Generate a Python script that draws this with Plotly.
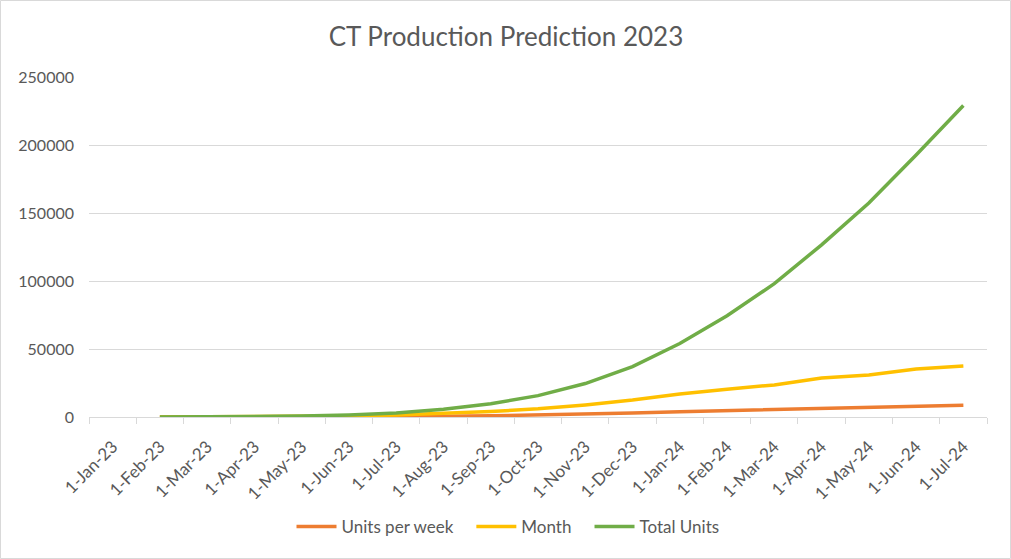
import plotly.graph_objects as go

months = ["1-Jan-23", "1-Feb-23", "1-Mar-23", "1-Apr-23", "1-May-23", "1-Jun-23",
          "1-Jul-23", "1-Aug-23", "1-Sep-23", "1-Oct-23", "1-Nov-23", "1-Dec-23",
          "1-Jan-24", "1-Feb-24", "1-Mar-24", "1-Apr-24", "1-May-24", "1-Jun-24",
          "1-Jul-24"]

data_months = months[1:]

units_per_week = [0, 20, 50, 100, 180, 350, 600, 900, 1400, 2050, 2900,
                  3900, 4700, 5450, 6600, 7100, 8150, 8600]
month_units = [0, 80, 200, 400, 800, 1500, 2700, 4000, 6000, 8900, 12500,
               16900, 20400, 23600, 28600, 30800, 35300, 37500]
total_units = [0, 80, 280, 680, 1480, 2980, 5680, 9680, 15700, 24600, 37100,
               54000, 74400, 98000, 126600, 157400, 192700, 229000]

series = [
    ("Units per week", units_per_week, "#ED7D31"),
    ("Month", month_units, "#FFC000"),
    ("Total Units", total_units, "#70AD47"),
]

pad = "\u00a0" * 3

fig = go.Figure()
for i, (name, vals, color) in enumerate(series):
    label = name + (pad if i < len(series) - 1 else "")
    fig.add_trace(go.Scatter(
        x=data_months, y=vals, name=label, mode="lines",
        line=dict(color=color, width=3.5),
    ))

font_family = "Lato, Open Sans, sans-serif"
grey = "#595959"
grid = "#D9D9D9"

L, R, T, B = 89, 24, 77, 142
W, H = 1011, 559
pw, ph = W - L - R, H - T - B

fig.update_layout(
    width=W, height=H,
    margin=dict(l=L, r=R, t=T, b=B),
    paper_bgcolor="white", plot_bgcolor="white",
    font=dict(family=font_family, color=grey, size=16),
    title=dict(text="CT Production Prediction 2023", x=(506 - L) / pw,
               xref="paper", xanchor="center",
               y=1 - 37 / H, yanchor="middle",
               font=dict(size=26, color=grey, family=font_family)),
    showlegend=True,
    legend=dict(orientation="h", x=(508 - L) / pw, xanchor="center",
                y=-(527 - 417) / ph, yanchor="middle",
                font=dict(size=17, color=grey),
                itemwidth=40, tracegroupgap=0),
    xaxis=dict(
        type="category", categoryorder="array", categoryarray=months,
        range=[-0.5, len(months) - 0.5],
        tickmode="array", tickvals=months, ticktext=months,
        tickson="boundaries", ticks="outside", ticklen=6, tickcolor=grid,
        showline=True, linecolor=grid, linewidth=1,
        showgrid=False, tickangle=-45, ticklabelstandoff=12,
        tickfont=dict(size=17, color=grey),
    ),
    yaxis=dict(
        range=[0, 250000], tick0=0, dtick=50000, tickformat="d",
        showgrid=True, gridcolor=grid, gridwidth=1,
        zeroline=False, showline=False, ticks="",
        tickfont=dict(size=16, color=grey), ticklabelstandoff=14,
    ),
    shapes=[dict(
        type="rect", xref="paper", yref="paper",
        x0=(0.5 - L) / pw, x1=(W - 0.5 - L) / pw,
        y0=-(B - 0.5) / ph, y1=1 + (T - 0.5) / ph,
        line=dict(color=grid, width=1), fillcolor="rgba(0,0,0,0)", layer="below",
    )],
)

fig.write_html("out.html")
